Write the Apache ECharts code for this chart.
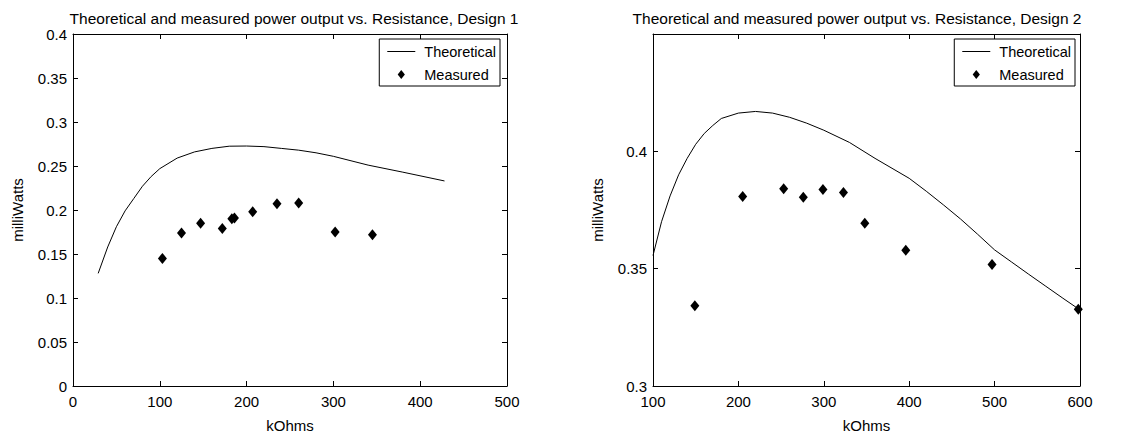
<!DOCTYPE html>
<html>
<head>
<meta charset="utf-8">
<script src="https://cdn.jsdelivr.net/npm/echarts@6/dist/echarts.min.js"></script>
<style>
html,body{margin:0;padding:0;background:#fff;}
#c{width:1136px;height:438px;}
</style>
</head>
<body>
<div id="c"></div>
<script>
// ---- Design 1 ----
const d1TheoR = [29, 40, 50, 60, 70, 80, 90, 100, 120, 140, 160, 180, 200, 220, 240, 260, 280, 300, 340, 380, 428];
const d1TheoP = [0.128, 0.158, 0.181, 0.199, 0.213, 0.227, 0.238, 0.247, 0.259, 0.266, 0.270, 0.2725, 0.2727, 0.272, 0.270, 0.268, 0.265, 0.261, 0.251, 0.243, 0.233];
const d1MeasR = [103, 125, 147, 172, 183, 186, 207, 235, 260, 302, 345];
const d1MeasP = [0.145, 0.174, 0.185, 0.179, 0.190, 0.191, 0.198, 0.207, 0.208, 0.175, 0.172];
// ---- Design 2 ----
const d2TheoR = [100, 110, 120, 130, 140, 150, 160, 170, 180, 200, 220, 240, 260, 280, 300, 330, 360, 400, 420, 440, 460, 480, 500, 520, 540, 560, 580, 600];
const d2TheoP = [0.3556, 0.370, 0.381, 0.390, 0.397, 0.403, 0.4076, 0.411, 0.414, 0.4163, 0.417, 0.4163, 0.4145, 0.412, 0.409, 0.4038, 0.397, 0.3885, 0.3830, 0.3772, 0.3712, 0.3647, 0.358, 0.3528, 0.3476, 0.3425, 0.3374, 0.3324];
const d2MeasR = [149, 205, 253, 276, 299, 323, 348, 396, 497, 598];
const d2MeasP = [0.3342, 0.3808, 0.3841, 0.3804, 0.3837, 0.3825, 0.3694, 0.3579, 0.3518, 0.3327];

const titles = ['Theoretical and measured power output vs. Resistance, Design 1',
                'Theoretical and measured power output vs. Resistance, Design 2'];
const xName = 'kOhms';
const yName = 'milliWatts';
const seriesNames = ['Theoretical', 'Measured'];

const zip = (a, b) => a.map((v, i) => [v, b[i]]);

const FONT = 'Liberation Sans, Arial, sans-serif';
const grids = [
  {left: 73, top: 34, width: 434, height: 355},
  {left: 653, top: 34, width: 427, height: 355}
];
const xr = [[0, 500], [100, 600]];
const yr = [[0, 0.4], [0.3, 0.45]];

const xAxes = [], yAxes = [];
for (let i = 0; i < 2; i++) {
  const common = {
    type: 'value', gridIndex: i, min: xr[i][0], max: xr[i][1], interval: 100,
    axisLine: {show: true, onZero: false, lineStyle: {color: '#000', width: 1}},
    axisTick: {show: true, inside: true, length: 5, lineStyle: {color: '#000'}},
    splitLine: {show: false}
  };
  xAxes.push(Object.assign({}, common, {
    position: 'bottom', name: xName, nameLocation: 'middle', nameGap: 32,
    nameTextStyle: {fontFamily: FONT, fontSize: 15, color: '#000'},
    axisLabel: {fontFamily: FONT, fontSize: 15, color: '#000', margin: 8}
  }));
  xAxes.push(Object.assign({}, common, {position: 'top', axisLabel: {show: false}}));
  const ycommon = {
    type: 'value', gridIndex: i, min: yr[i][0], max: yr[i][1], interval: 0.05,
    axisLine: {show: true, onZero: false, lineStyle: {color: '#000', width: 1}},
    axisTick: {show: true, inside: true, length: 5, lineStyle: {color: '#000'}},
    splitLine: {show: false}
  };
  yAxes.push(Object.assign({}, ycommon, {
    position: 'left', name: yName, nameLocation: 'middle', nameGap: 48, nameRotate: 90,
    nameTextStyle: {fontFamily: FONT, fontSize: 15, color: '#000'},
    axisLabel: {fontFamily: FONT, fontSize: 15, color: '#000', margin: 6, showMaxLabel: i === 0}
  }));
  yAxes.push(Object.assign({}, ycommon, {position: 'right', axisLabel: {show: false}}));
}

const series = [];
const theo = [zip(d1TheoR, d1TheoP), zip(d2TheoR, d2TheoP)];
const meas = [zip(d1MeasR, d1MeasP), zip(d2MeasR, d2MeasP)];
for (let i = 0; i < 2; i++) {
  series.push({
    name: seriesNames[0], type: 'line', xAxisIndex: 2 * i, yAxisIndex: 2 * i,
    data: theo[i], symbol: 'none', lineStyle: {color: '#000', width: 1}, itemStyle: {color: '#000'},
    animation: false, silent: true
  });
  series.push({
    name: seriesNames[1], type: 'scatter', xAxisIndex: 2 * i, yAxisIndex: 2 * i,
    data: meas[i], symbol: 'diamond', symbolSize: [9, 11], itemStyle: {color: '#000', opacity: 1},
    animation: false, silent: true
  });
}

const LINE_ICON = 'path://M0,0 L28,0 L28,1 L0,1 Z';
const DIAMOND_ICON = 'path://M4,0 L8,5 L4,10 L0,5 Z';
const legendPos = [{right: 636, top: 39}, {right: 61, top: 39}];
const legends = legendPos.map(p => ({
  right: p.right, top: p.top, orient: 'vertical',
  data: [{name: seriesNames[0], icon: LINE_ICON}, {name: seriesNames[1], icon: DIAMOND_ICON}],
  itemWidth: 28, itemHeight: 9, itemGap: 8, padding: [5, 4, 4, 8],
  borderColor: '#000', borderWidth: 1, backgroundColor: '#fff',
  itemStyle: {color: '#000', opacity: 1},
  textStyle: {fontFamily: FONT, fontSize: 14.5, color: '#000', padding: [0, 0, 0, 4]},
  selectedMode: false
}));

const chart = echarts.init(document.getElementById('c'), null, {renderer: 'svg'});
chart.setOption({
  animation: false,
  backgroundColor: '#fff',
  title: [
    {text: titles[0], left: 289, top: 5, textAlign: 'center', textStyle: {fontFamily: FONT, fontSize: 15.5, fontWeight: 'normal', color: '#000'}},
    {text: titles[1], left: 852, top: 5, textAlign: 'center', textStyle: {fontFamily: FONT, fontSize: 15.5, fontWeight: 'normal', color: '#000'}}
  ],
  grid: grids,
  xAxis: xAxes,
  yAxis: yAxes,
  legend: legends,
  series: series
});
</script>
</body>
</html>
